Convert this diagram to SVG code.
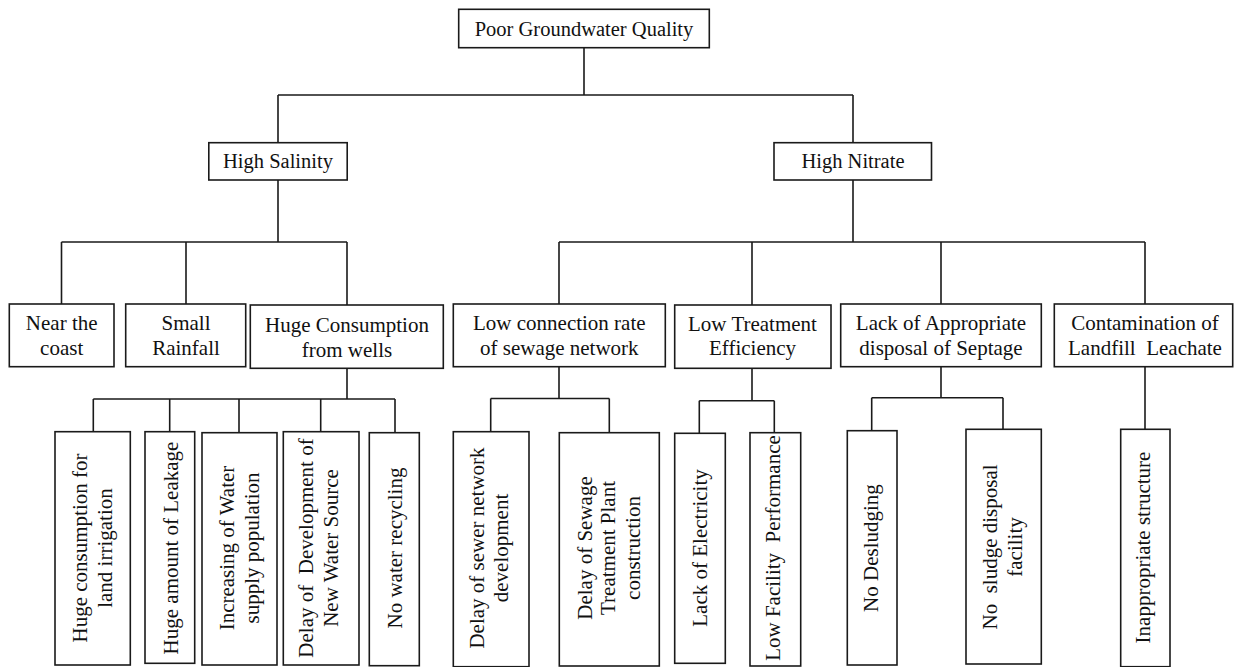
<svg xmlns="http://www.w3.org/2000/svg" width="1234" height="667" viewBox="0 0 1234 667">
  <style>
    .box { fill: #ffffff; stroke: #1a1a1a; stroke-width: 1.6; }
    .wire { fill: none; stroke: #1a1a1a; stroke-width: 1.6; }
    .lbl { font-family: "Liberation Serif", "Times New Roman", serif; font-size: 21px; fill: #111111; text-anchor: middle; white-space: pre; }
    .top { font-size: 20.5px; }
  </style>
  <rect width="1234" height="667" fill="#ffffff"/>

  <!-- connectors -->
  <g id="connectors" class="wire">
    <path d="M584 47.7V95 M278 95H853 M278 95V142.7 M853 95V142.7"/>
    <path d="M278 180V242 M61.5 242H347 M61.5 242V304 M186 242V304 M347 242V305"/>
    <path d="M853 180V242 M559 242H1145 M559 242V304 M752 242V305 M941 242V304 M1145 242V304"/>
    <path d="M347 368.3V399 M93.3 399H395 M93.3 399V431.7 M169.7 399V431.7 M239 399V432.7 M320.7 399V431.7 M395 399V432.7"/>
    <path d="M559 366.7V398.5 M490.7 398.5H609.3 M490.7 398.5V431.7 M609.3 398.5V432.7"/>
    <path d="M752 368.3V400.7 M699.3 400.7H774.3 M699.3 400.7V433.3 M774.3 400.7V432.7"/>
    <path d="M941 366.7V397.7 M871.7 397.7H1003 M871.7 397.7V430.7 M1003 397.7V429.3"/>
    <path d="M1145 366.7V429.3"/>
  </g>

  <!-- level 0 -->
  <g id="root">
    <rect class="box" x="458.7" y="9.3" width="250.6" height="38.4"/>
    <text class="lbl top" x="584" y="36">Poor Groundwater Quality</text>
  </g>

  <!-- level 1 -->
  <g id="high-salinity">
    <rect class="box" x="208.8" y="142.7" width="138.4" height="37.3"/>
    <text class="lbl top" x="278" y="168">High Salinity</text>
  </g>
  <g id="high-nitrate">
    <rect class="box" x="774" y="142.7" width="157.5" height="37.3"/>
    <text class="lbl top" x="853" y="168">High Nitrate</text>
  </g>

  <!-- level 2 -->
  <g id="near-coast">
    <rect class="box" x="9.3" y="304" width="104.7" height="62.7"/>
    <text class="lbl" x="61.7" y="330">Near the<tspan x="61.7" y="355">coast</tspan></text>
  </g>
  <g id="small-rainfall">
    <rect class="box" x="125.7" y="304" width="120" height="62.7"/>
    <text class="lbl" x="186" y="330">Small<tspan x="186" y="355">Rainfall</tspan></text>
  </g>
  <g id="huge-consumption">
    <rect class="box" x="250.3" y="305" width="193" height="63.3"/>
    <text class="lbl" x="347" y="331.5">Huge Consumption<tspan x="347" y="356.5">from wells</tspan></text>
  </g>
  <g id="low-connection">
    <rect class="box" x="453.3" y="304" width="212" height="62.7"/>
    <text class="lbl" x="559.3" y="330">Low connection rate<tspan x="559.3" y="354.5">of sewage network</tspan></text>
  </g>
  <g id="low-treatment">
    <rect class="box" x="674.7" y="305" width="156.3" height="63.3"/>
    <text class="lbl" x="752.5" y="330.5">Low Treatment<tspan x="752.5" y="355">Efficiency</tspan></text>
  </g>
  <g id="septage">
    <rect class="box" x="840.7" y="304" width="200.6" height="62.7"/>
    <text class="lbl" x="941" y="330">Lack of Appropriate<tspan x="941" y="354.5">disposal of Septage</tspan></text>
  </g>
  <g id="landfill">
    <rect class="box" x="1054.3" y="304" width="178.4" height="62.7"/>
    <text class="lbl" x="1145" y="330">Contamination of<tspan x="1145" y="354.5">Landfill  Leachate</tspan></text>
  </g>

  <!-- level 3 (vertical labels) -->
  <g id="land-irrigation">
    <rect class="box" x="55" y="431.7" width="75.3" height="233.3"/>
    <text class="lbl" transform="translate(92.7 548) rotate(-90)"><tspan x="0" y="-6">Huge consumption for</tspan><tspan x="0" y="19.5">land irrigation</tspan></text>
  </g>
  <g id="leakage">
    <rect class="box" x="145" y="431.7" width="49.7" height="231.6"/>
    <text class="lbl" transform="translate(169.8 548) rotate(-90)"><tspan x="0" y="8">Huge amount of Leakage</tspan></text>
  </g>
  <g id="supply-population">
    <rect class="box" x="202" y="432.7" width="75" height="232.3"/>
    <text class="lbl" transform="translate(239.5 548) rotate(-90)"><tspan x="0" y="-6">Increasing of Water</tspan><tspan x="0" y="19">supply population</tspan></text>
  </g>
  <g id="new-source">
    <rect class="box" x="283.3" y="431.7" width="75.7" height="233.3"/>
    <text class="lbl" transform="translate(321.2 548) rotate(-90)"><tspan x="0" y="-8">Delay of  Development of</tspan><tspan x="0" y="17">New Water Source</tspan></text>
  </g>
  <g id="recycling">
    <rect class="box" x="369.3" y="432.7" width="50" height="233"/>
    <text class="lbl" transform="translate(394.3 548) rotate(-90)"><tspan x="0" y="7.4">No water recycling</tspan></text>
  </g>
  <g id="sewer-network">
    <rect class="box" x="453.3" y="431.7" width="75.7" height="235"/>
    <text class="lbl" transform="translate(491.2 548) rotate(-90)"><tspan x="0" y="-7">Delay of sewer network</tspan><tspan x="0" y="17">development</tspan></text>
  </g>
  <g id="treatment-plant">
    <rect class="box" x="559.3" y="432.7" width="100" height="233.3"/>
    <text class="lbl" transform="translate(609.3 548) rotate(-90)"><tspan x="0" y="-17.6">Delay of Sewage</tspan><tspan x="0" y="6">Treatment Plant</tspan><tspan x="0" y="30.7">construction</tspan></text>
  </g>
  <g id="electricity">
    <rect class="box" x="674.7" y="433.3" width="50.6" height="230"/>
    <text class="lbl" transform="translate(700 548) rotate(-90)"><tspan x="0" y="6.7">Lack of Electricity</tspan></text>
  </g>
  <g id="facility-performance">
    <rect class="box" x="750" y="432.7" width="50.7" height="233.3"/>
    <text class="lbl" transform="translate(775.3 548) rotate(-90)"><tspan x="0" y="5">Low Facility  Performance</tspan></text>
  </g>
  <g id="desludging">
    <rect class="box" x="847.3" y="430.7" width="49.7" height="234.3"/>
    <text class="lbl" transform="translate(872.2 548) rotate(-90)"><tspan x="0" y="6">No Desludging</tspan></text>
  </g>
  <g id="sludge-facility">
    <rect class="box" x="966" y="429.3" width="75.3" height="234.7"/>
    <text class="lbl" transform="translate(1003.7 547) rotate(-90)"><tspan x="0" y="-7">No  sludge disposal</tspan><tspan x="0" y="18">facility</tspan></text>
  </g>
  <g id="structure">
    <rect class="box" x="1120.7" y="429.3" width="49.3" height="237.4"/>
    <text class="lbl" transform="translate(1145.3 547.5) rotate(-90)"><tspan x="0" y="5">Inappropriate structure</tspan></text>
  </g>
</svg>
